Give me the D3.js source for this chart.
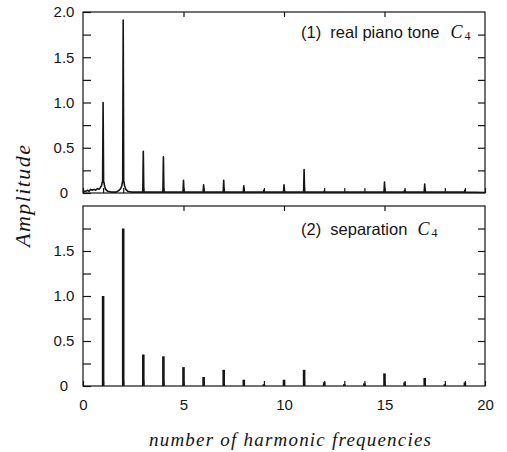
<!DOCTYPE html>
<html><head><meta charset="utf-8">
<script src="https://cdn.jsdelivr.net/npm/d3@7"></script>
<style>
html,body{margin:0;padding:0;background:#fff;}
svg{display:block;}
</style></head>
<body>
<svg id="chart" width="507" height="452"></svg>
<script>
// ---- data ----
const harmonics = [1,2,3,4,5,6,7,8,9,10,11,12,13,14,15,16,17,18,19];
// (1) real piano tone C4 : peak amplitudes at each harmonic
const pianoPeaks = [1.00,1.91,0.46,0.40,0.14,0.09,0.14,0.08,0.03,0.09,0.26,0.02,0.01,0.01,0.12,0.03,0.10,0.01,0.03];
// (1) low-frequency background of the measured spectrum [frequency, amplitude]
const pianoBackground = [
  [0.00,0.01],[0.08,0.02],[0.15,0.02],[0.22,0.03],[0.30,0.02],[0.38,0.04],[0.46,0.03],
  [0.55,0.04],[0.63,0.03],[0.72,0.05],[0.80,0.04],[0.86,0.06],[0.92,0.08],[0.96,0.12],
  [1.04,0.12],[1.08,0.07],[1.13,0.04],[1.22,0.02],[1.40,0.01],[1.65,0.01],[1.80,0.03],
  [1.88,0.05],[1.93,0.08],[1.97,0.13],[2.03,0.13],[2.07,0.08],[2.13,0.04],[2.22,0.02],
  [2.40,0.01],[20.0,0.005]
];
// (2) separation C4 : line amplitudes at each harmonic
const sepPeaks = [1.00,1.75,0.35,0.33,0.21,0.10,0.18,0.07,0.02,0.07,0.18,0.04,0.02,0.03,0.14,0.04,0.09,0.02,0.04];
const xTickLabels = [0,5,10,15,20];
const yLabelsTop = [0,0.5,1.0,1.5,2.0];
const yLabelsBottom = [0,0.5,1.0,1.5];
const yTicks = [0,0.25,0.5,0.75,1.0,1.25,1.5,1.75];

// ---- layout ----
const svg = d3.select("#chart");
const ink = "#151515";
const x = d3.scaleLinear().domain([0,20]).range([83,485]);
const panels = [
  {y: d3.scaleLinear().domain([0,2]).range([193,12]), top:12, bottom:193, labels:yLabelsTop, xlabels:false},
  {y: d3.scaleLinear().domain([0,2]).range([386,206]), top:206, bottom:386, labels:yLabelsBottom, xlabels:true}
];

panels.forEach((p,i) => {
  const g = svg.append("g");
  g.append("rect").attr("x",x(0)).attr("y",p.top).attr("width",x(20)-x(0)).attr("height",p.bottom-p.top)
    .attr("fill","none").attr("stroke",ink).attr("stroke-width",1.2);

  const fmt = d => p.labels.includes(d) ? (d===0 ? "0" : d3.format(".1f")(d)) : "";
  const left = g.append("g").attr("transform",`translate(${x(0)},0)`)
    .call(d3.axisLeft(p.y).tickValues(yTicks.concat(i===0?[2.0]:[])).tickFormat(fmt).tickSizeInner(-8).tickSizeOuter(0));
  left.select(".domain").remove();
  left.selectAll("text").attr("x",-19).attr("text-anchor","middle")
    .style("font-family","'Liberation Sans',Arial,sans-serif").style("font-size","15px").attr("fill",ink);
  left.selectAll("line").attr("stroke",ink).attr("stroke-width",1.2);

  const right = g.append("g").attr("transform",`translate(${x(20)},0)`)
    .call(d3.axisRight(p.y).tickValues(yTicks.filter(d=>d>0)).tickFormat("").tickSizeInner(-7).tickSizeOuter(0));
  right.select(".domain").remove();
  right.selectAll("line").attr("stroke",ink).attr("stroke-width",1.2);

  const topAx = g.append("g").attr("transform",`translate(0,${p.top})`)
    .call(d3.axisTop(x).tickValues([5,10,15]).tickFormat("").tickSizeInner(-5).tickSizeOuter(0));
  topAx.select(".domain").remove();
  topAx.selectAll("line").attr("stroke",ink).attr("stroke-width",1.2);

  const botAx = g.append("g").attr("transform",`translate(0,${p.bottom})`)
    .call(d3.axisBottom(x).tickValues(d3.range(0,21)).tickFormat(d => p.xlabels && xTickLabels.includes(d) ? String(d) : "")
      .tickSizeInner(-5).tickSizeOuter(0).tickPadding(13));
  botAx.select(".domain").remove();
  botAx.selectAll("line").attr("stroke",ink).attr("stroke-width",1.2);
  botAx.selectAll("text").style("font-family","'Liberation Sans',Arial,sans-serif").style("font-size","15px").attr("fill",ink);
});

// ---- panel (1): measured spectrum as a line ----
const yT = panels[0].y;
let pts = pianoBackground.slice();
harmonics.forEach((h,k) => {
  const base = h <= 2 ? 0.12 : 0.01;
  pts.push([h-0.025, base],[h, pianoPeaks[k]],[h+0.025, base]);
});
pts = pts.filter(pt => !(pianoBackground.includes(pt) && harmonics.some(h => Math.abs(pt[0]-h) < 0.025)));
pts.sort((a,b)=>a[0]-b[0]);
svg.append("path").datum(pts)
  .attr("d", d3.line().x(d=>x(d[0])).y(d=>yT(d[1])))
  .attr("fill","none").attr("stroke",ink).attr("stroke-width",1.6).attr("stroke-linejoin","round");

// ---- panel (2): separated line spectrum ----
const yB = panels[1].y;
svg.append("g").selectAll("line").data(harmonics).join("line")
  .attr("x1",d=>x(d)).attr("x2",d=>x(d))
  .attr("y1",yB(0)).attr("y2",(d,k)=>yB(sepPeaks[k]))
  .attr("stroke",ink).attr("stroke-width",2.6);

// ---- annotations ----
function label(xp, yp, main, gap) {
  const t = svg.append("text").attr("x",xp).attr("y",yp).attr("fill",ink)
    .style("white-space","pre").style("font-family","'Liberation Sans',Arial,sans-serif").style("font-size","16.5px");
  t.append("tspan").text(main);
  t.append("tspan").text("C").attr("dx",gap).style("font-family","'Liberation Serif','Times New Roman',serif")
    .style("font-style","italic").style("font-size","18px");
  t.append("tspan").text("4").attr("dx",2).attr("dy",2).style("font-family","'Liberation Serif','Times New Roman',serif")
    .style("font-size","12px");
}
label(301, 38, "(1)  real piano tone", 11);
label(301, 235, "(2)  separation", 10);

svg.append("text").attr("x",290).attr("y",446).attr("text-anchor","middle")
  .attr("textLength",282).attr("lengthAdjust","spacing")
  .style("font-family","'Liberation Serif','Times New Roman',serif").style("font-style","italic").style("font-size","19px")
  .attr("fill",ink).text("number of harmonic frequencies");
svg.append("text").attr("transform","translate(30,196) rotate(-90)").attr("text-anchor","middle")
  .attr("textLength",102).attr("lengthAdjust","spacing")
  .style("font-family","'Liberation Serif','Times New Roman',serif").style("font-style","italic").style("font-size","22px")
  .attr("fill",ink).text("Amplitude");
</script>
</body></html>
